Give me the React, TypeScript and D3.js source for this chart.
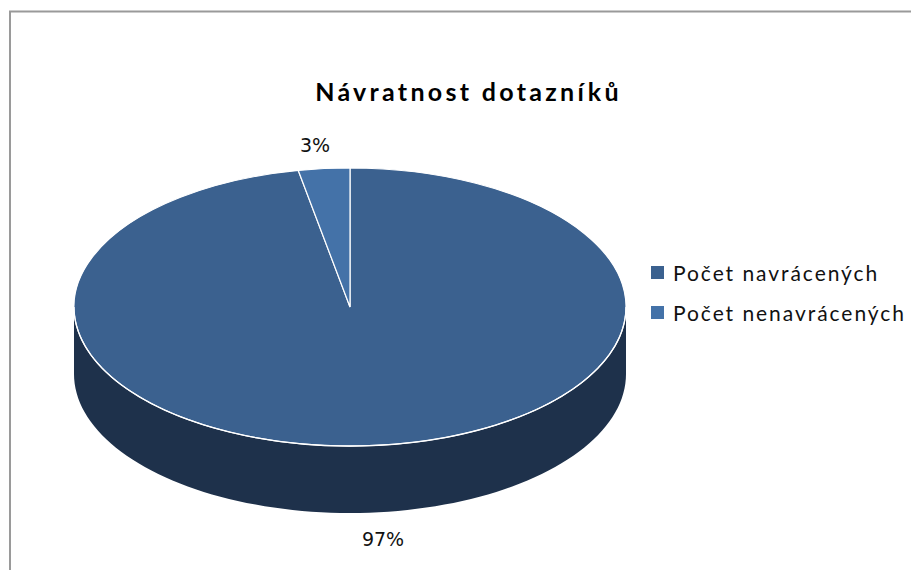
import React from "react";
import * as d3 from "d3";

const categories = ["Počet navrácených", "Počet nenavrácených"];
const values = [97, 3];
const percentLabels = ["97%", "3%"];
const colors = ["#3b618f", "#4472a8"];
const sideColor = "#1e314b";
const titleText = "Návratnost dotazníků";

const cx = 350, cy = 307, rx = 276, ry = 139, depth = 67;

export default function App() {
  const pie = d3.pie<number>().sort(null)(values);
  const arc = d3.arc<d3.PieArcDatum<number>>().innerRadius(0).outerRadius(rx);
  const yScale = ry / rx;
  const ellipseX = d3.scaleLinear().domain([-1, 1]).range([cx - rx, cx + rx]);
  const wallSteps = d3.range(0, 181, 2).map((a) => (a * Math.PI) / 180);
  const lower = wallSteps.map((t) => [ellipseX(Math.cos(t)), cy + ry * Math.sin(t)] as [number, number]);
  const wall =
    d3.line()(lower.map(([x, y]) => [x, y + depth] as [number, number]))! +
    "L" + d3.line()([...lower].reverse())!.slice(1) + "Z";
  const rim = d3.line()(lower)!;
  return (
    <svg
      width={911}
      height={570}
      style={{ position: "absolute", left: 0, top: 0, fontFamily: "Lato, 'Open Sans', sans-serif" }}
    >
      <rect width={911} height={570} fill="#fff" />
      <path d="M10 570V11.5H911" fill="none" stroke="#9a9a9a" strokeWidth={2} />
      <text x={468.5} y={101} textAnchor="middle" fontSize={25} fontWeight={700} letterSpacing={3.3} fill="#000">
        {titleText}
      </text>
      <path d={wall} fill={sideColor} />
      <g transform={`translate(${cx},${cy}) scale(1,${yScale})`}>
        {pie.map((d, i) => (
          <path key={i} d={arc(d)!} fill={colors[i]} stroke="#fff" strokeWidth={1.2} vectorEffect="non-scaling-stroke" />
        ))}
      </g>
      <path d={rim} fill="none" stroke="#fff" strokeWidth={1.3} />
      <text x={315} y={152} textAnchor="middle" fontFamily="'DejaVu Sans'" fill="#111" style={{ fontSize: 19 }}>
        {percentLabels[1]}
      </text>
      <text x={383} y={546} textAnchor="middle" fontFamily="'DejaVu Sans'" fill="#111" style={{ fontSize: 19 }}>
        {percentLabels[0]}
      </text>
      {categories.map((c, i) => (
        <g key={c} transform={`translate(651,${266 + i * 40})`}>
          <rect width={13} height={13} fill={colors[i]} />
          <text x={22} y={14.5} fontSize={21} letterSpacing={1.95} fill="#111">
            {c}
          </text>
        </g>
      ))}
    </svg>
  );
}
